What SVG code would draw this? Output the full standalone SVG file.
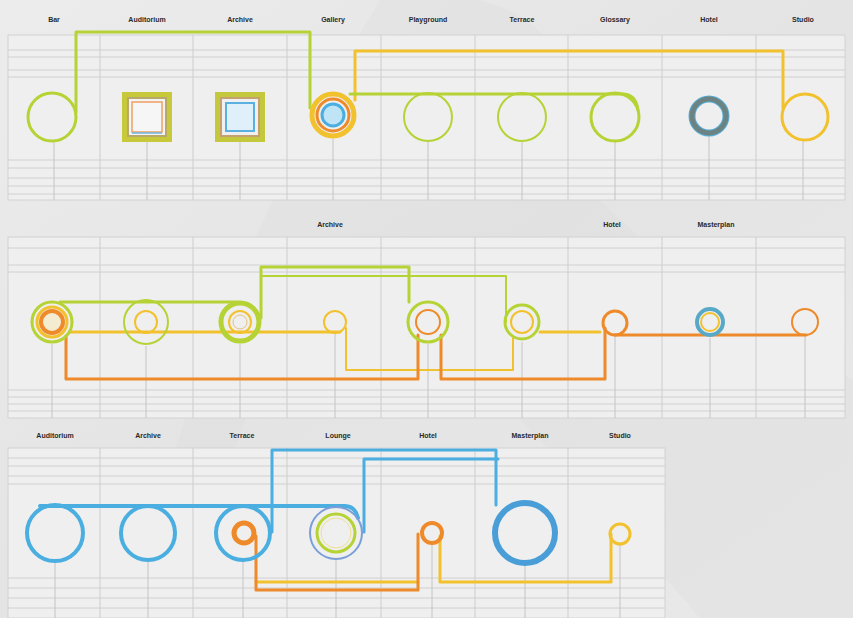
<svg xmlns="http://www.w3.org/2000/svg" width="853" height="618" viewBox="0 0 853 618">
<defs>
<linearGradient id="bg" x1="0" y1="0" x2="1" y2="1">
<stop offset="0" stop-color="#ececec"/>
<stop offset="0.5" stop-color="#e4e4e4"/>
<stop offset="1" stop-color="#e9e9e9"/>
</linearGradient>
</defs>
<style>
.lbl{font-family:"Liberation Sans",Arial,sans-serif;font-size:7px;font-weight:bold;fill:#2a2a2a;text-anchor:middle}
.panel{fill:#efefef;stroke:#d2d2d2;stroke-width:1}
.grid{stroke:#d0d0d0;stroke-width:1;fill:none}
.col{stroke:#cdcdcd;stroke-width:1;fill:none}
.stem{stroke:#c4c4c4;stroke-width:1;fill:none}
.w{fill:none;stroke-linejoin:round;stroke-linecap:round}
.g{stroke:#b5d334}
.y{stroke:#f2c12e}
.o{stroke:#ee8a2a}
.b{stroke:#4aaee0}
</style>
<rect width="853" height="618" fill="url(#bg)"/>
<path d="M380 0 Q520 -20 560 60 L600 200 Q700 300 853 380 L853 618 L700 618 Q600 500 520 420 Q420 330 330 330 Q240 330 200 618 L130 618 Q200 300 380 0 Z" fill="#dcdcdc" opacity="0.35"/>

<g id="panel1">
<rect class="panel" x="8" y="35" width="837" height="165"/>
<path class="grid" d="M8 50H845M8 57H845M8 70H845M8 77H845M8 160H845M8 168H845M8 178H845M8 186H845M8 194H845"/>
<path class="col" d="M100 35V200M193 35V200M287 35V200M381 35V200M475 35V200M568 35V200M662 35V200M756 35V200"/>
<path class="stem" d="M54 142V200M147 142V200M240 142V200M333 139V200M428 141V200M522 141V200M615 141V200M709 134V200M803 140V200"/>
</g>
<g id="panel2">
<rect class="panel" x="8" y="237" width="837" height="181"/>
<path class="grid" d="M8 248H845M8 265H845M8 272H845M8 390H845M8 397H845M8 404H845M8 411H845"/>
<path class="col" d="M100 237V418M193 237V418M287 237V418M381 237V418M475 237V418M568 237V418M662 237V418M756 237V418"/>
<path class="stem" d="M52 344V418M146 346V418M240 344V418M335 334V418M428 344V418M522 342V418M615 336V418M710 338V418M805 336V418"/>
</g>
<g id="panel3">
<rect class="panel" x="8" y="448" width="657" height="170"/>
<path class="grid" d="M8 458H665M8 466H665M8 476H665M8 484H665M8 578H665M8 588H665M8 598H665M8 608H665"/>
<path class="col" d="M100 448V618M193 448V618M287 448V618M381 448V618M475 448V618M568 448V618"/>
<path class="stem" d="M55 562V618M148 561V618M243 561V618M336 560V618M432 545V618M525 564V618M620 544V618"/>
</g>

<g id="labels">
<text class="lbl" x="54" y="22">Bar</text>
<text class="lbl" x="147" y="22">Auditorium</text>
<text class="lbl" x="240" y="22">Archive</text>
<text class="lbl" x="333" y="22">Gallery</text>
<text class="lbl" x="428" y="22">Playground</text>
<text class="lbl" x="522" y="22">Terrace</text>
<text class="lbl" x="615" y="22">Glossary</text>
<text class="lbl" x="709" y="22">Hotel</text>
<text class="lbl" x="803" y="22">Studio</text>
<text class="lbl" x="330" y="227">Archive</text>
<text class="lbl" x="612" y="227">Hotel</text>
<text class="lbl" x="716" y="227">Masterplan</text>
<text class="lbl" x="55" y="438">Auditorium</text>
<text class="lbl" x="148" y="438">Archive</text>
<text class="lbl" x="242" y="438">Terrace</text>
<text class="lbl" x="338" y="438">Lounge</text>
<text class="lbl" x="428" y="438">Hotel</text>
<text class="lbl" x="530" y="438">Masterplan</text>
<text class="lbl" x="620" y="438">Studio</text>
</g>

<g id="connectors">
<path class="w g" stroke-width="3" d="M76 112V32H310V108"/>
<path class="w y" stroke-width="3" d="M355 100V51H783V108"/>
<path class="w g" stroke-width="3" d="M350 94H622Q636 94 638 110"/>
<path class="w g" stroke-width="3" d="M60 302H238"/>
<path class="w g" stroke-width="3" d="M261 318V267H409V302"/>
<path class="w g" stroke-width="2" d="M262 276H506V322"/>
<path class="w y" stroke-width="3" d="M70 332H340"/>
<path class="w y" stroke-width="2" d="M346 328V370H513V338"/>
<path class="w y" stroke-width="3" d="M540 332H600"/>
<path class="w o" stroke-width="3" d="M66 336V379H418V335"/>
<path class="w o" stroke-width="3" d="M441 335V379H605V328"/>
<path class="w o" stroke-width="3" d="M615 335H806"/>
<path class="w b" stroke-width="4" d="M40 506H345Q355 506 358 518"/>
<path class="w b" stroke-width="3" d="M272 532V450H496V505"/>
<path class="w b" stroke-width="3" d="M364 532V459H498"/>
<path class="w y" stroke-width="3" d="M256 582H418"/>
<path class="w o" stroke-width="3" d="M256 536V590H418V534"/>
<path class="w y" stroke-width="3" d="M440 536V582H611V534"/>
</g>

<g id="n1-bar"><circle cx="52" cy="117" r="24" fill="none" class="g" stroke-width="3"/></g>
<g id="n1-auditorium">
<rect x="122" y="92" width="50" height="50" fill="#c7c93a"/>
<rect x="128" y="98" width="38" height="38" fill="#f4f4f4" stroke="#b7a96a" stroke-width="2"/>
<rect x="132" y="102" width="30" height="30" fill="#f6f6f6" stroke="#f0a060" stroke-width="1.5"/>
<path d="M132 133H162" stroke="#6fb6e0" stroke-width="1.5"/>
</g>
<g id="n1-archive">
<rect x="215" y="92" width="50" height="50" fill="#c3c83c"/>
<rect x="221" y="98" width="38" height="38" fill="#f0f0f0" stroke="#c5a070" stroke-width="2"/>
<rect x="226" y="103" width="28" height="28" fill="#dff0fb" stroke="#5ab0e0" stroke-width="2"/>
</g>
<g id="n1-gallery">
<circle cx="333" cy="115" r="21" fill="none" stroke="#f2c12e" stroke-width="5"/>
<circle cx="333" cy="115" r="16" fill="none" stroke="#ee8a2a" stroke-width="3"/>
<circle cx="333" cy="115" r="11" fill="#bfe4f6" stroke="#4aaee0" stroke-width="3"/>
</g>
<g id="n1-playground"><circle cx="428" cy="117" r="24" fill="none" class="g" stroke-width="2"/></g>
<g id="n1-terrace"><circle cx="522" cy="117" r="24" fill="none" class="g" stroke-width="2"/></g>
<g id="n1-glossary"><circle cx="615" cy="117" r="24" fill="none" class="g" stroke-width="3"/></g>
<g id="n1-hotel">
<circle cx="709" cy="116" r="17" fill="none" stroke="#5ab0d8" stroke-width="7"/>
<circle cx="709" cy="116" r="17" fill="none" stroke="#6c8383" stroke-width="5"/>
</g>
<g id="n1-studio"><circle cx="805" cy="117" r="23" fill="none" stroke="#f2c12e" stroke-width="3"/></g>

<g id="n2-1">
<circle cx="52" cy="322" r="20" fill="none" class="g" stroke-width="3"/>
<circle cx="52" cy="322" r="15" fill="none" class="y" stroke-width="3"/>
<circle cx="52" cy="322" r="11" fill="#f3ecd0" class="o" stroke-width="4"/>
</g>
<g id="n2-2">
<circle cx="146" cy="322" r="22" fill="none" class="g" stroke-width="2"/>
<circle cx="146" cy="322" r="11" fill="none" class="y" stroke-width="2"/>
</g>
<g id="n2-3">
<circle cx="240" cy="322" r="19" fill="none" class="g" stroke-width="5"/>
<circle cx="240" cy="322" r="11" fill="none" class="y" stroke-width="2"/>
<circle cx="240" cy="322" r="7" fill="none" stroke="#e6c080" stroke-width="1"/>
</g>
<g id="n2-4"><circle cx="335" cy="322" r="11" fill="none" class="y" stroke-width="2"/></g>
<g id="n2-5">
<circle cx="428" cy="322" r="20" fill="none" class="g" stroke-width="3"/>
<circle cx="428" cy="322" r="12" fill="none" class="o" stroke-width="2"/>
</g>
<g id="n2-6">
<circle cx="522" cy="322" r="17" fill="none" class="g" stroke-width="3"/>
<circle cx="522" cy="322" r="11" fill="none" class="y" stroke-width="2"/>
</g>
<g id="n2-7"><circle cx="615" cy="323" r="12" fill="none" class="o" stroke-width="3"/></g>
<g id="n2-8">
<circle cx="710" cy="322" r="13" fill="none" stroke="#58a9c8" stroke-width="4"/>
<circle cx="710" cy="322" r="9" fill="none" class="y" stroke-width="2"/>
</g>
<g id="n2-9"><circle cx="805" cy="322" r="13" fill="none" class="o" stroke-width="2"/></g>

<g id="n3-1"><circle cx="55" cy="533" r="28" fill="none" class="b" stroke-width="4"/></g>
<g id="n3-2"><circle cx="148" cy="533" r="27" fill="none" class="b" stroke-width="4"/></g>
<g id="n3-3">
<circle cx="243" cy="533" r="27" fill="none" class="b" stroke-width="4"/>
<circle cx="244" cy="533" r="10" fill="none" class="o" stroke-width="5"/>
</g>
<g id="n3-4">
<circle cx="336" cy="533" r="26" fill="none" stroke="#7a9ed8" stroke-width="2"/>
<circle cx="336" cy="533" r="19" fill="none" class="g" stroke-width="3"/>
<circle cx="336" cy="533" r="15" fill="none" stroke="#f0e090" stroke-width="1"/>
</g>
<g id="n3-5"><circle cx="432" cy="533" r="10" fill="none" class="o" stroke-width="4"/></g>
<g id="n3-6"><circle cx="525" cy="533" r="30" fill="none" stroke="#4a9ed8" stroke-width="6"/></g>
<g id="n3-7"><circle cx="620" cy="534" r="10" fill="none" class="y" stroke-width="3"/></g>
</svg>
